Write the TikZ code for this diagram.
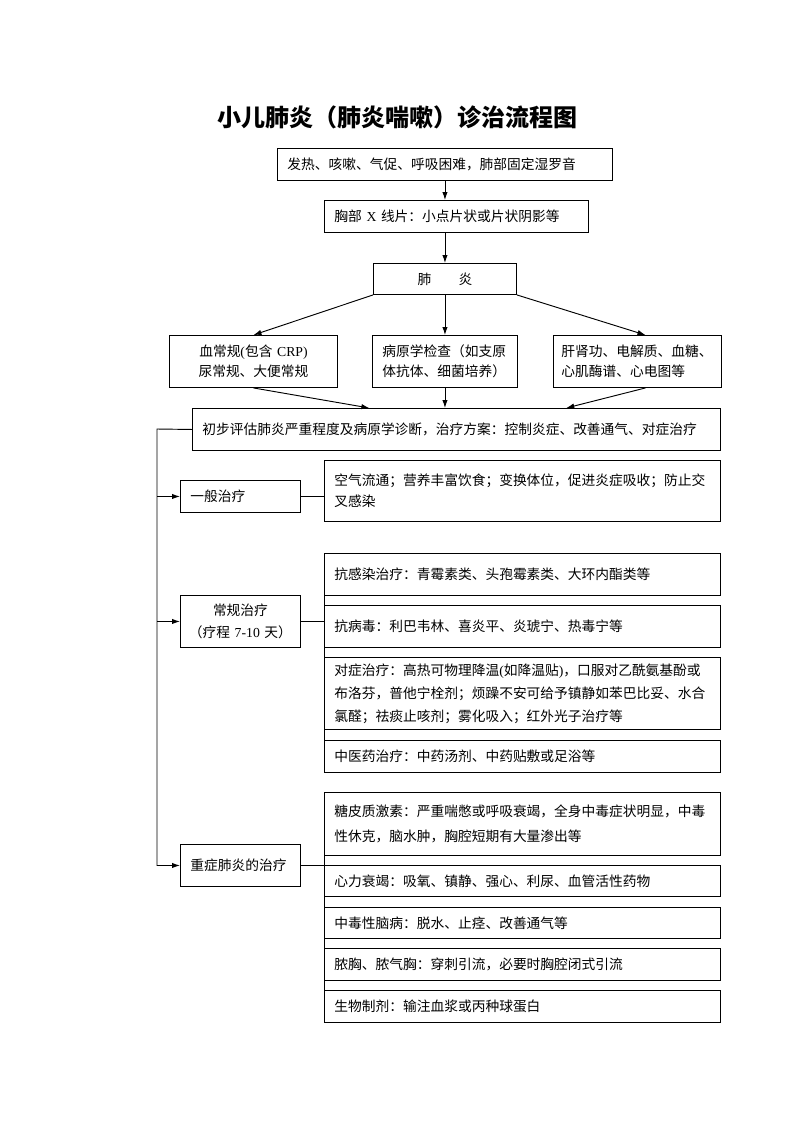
\documentclass[tikz,border=0pt]{standalone}
\usepackage{fontspec}
\setmainfont{Noto Sans CJK SC}
\newfontfamily\latfont{Liberation Serif}
\newcommand{\lat}[1]{{\latfont #1}}
\usetikzlibrary{arrows.meta}
\tikzset{
	every path/.style={line width=0.7pt},
	box/.style={
		draw,
		rectangle,
		anchor=north west,
		align=left,
		inner xsep=7.5pt,
		inner ysep=2pt,
		font=\fontsize{10.3}{16}\selectfont,
	},
	item/.style={box, text width=282pt},
	branch/.style={box, text width=75pt},
	flow/.style={
		-{Latex[length=6pt,width=4pt]}
	},
}

\begin{document}
\begin{tikzpicture}[x=0.75pt,y=-0.75pt]
	\useasboundingbox (0,0) rectangle (793,1122);

	\node[font=\fontsize{18}{22}\selectfont\bfseries] (title) at (397,117) {小儿肺炎（肺炎喘嗽）诊治流程图};

	% diagnosis
	\node[box, text width=236.25pt, minimum height=24pt] (sym) at (277,148) {发热、咳嗽、气促、呼吸困难，肺部固定湿罗音};
	\node[box, text width=183pt, minimum height=24pt] (xray) at (324,200) {胸部 \lat{X} 线片：小点片状或片状阴影等};
	\node[box, align=center, text width=92.25pt, minimum height=23.25pt] (pneu) at (373,263) {肺　　炎};

	\node[box, align=center, text width=111pt, minimum height=39pt, font=\fontsize{10.3}{15}\selectfont] (blood) at (169,335) {血常规\lat{(}包含 \lat{CRP)}\\尿常规、大便常规};
	\node[box, text width=93.75pt, minimum height=39pt, font=\fontsize{10.3}{15}\selectfont] (patho) at (372,335) {病原学检查（如支原\\体抗体、细菌培养）};
	\node[box, inner xsep=6pt, text width=114pt, minimum height=39pt, font=\fontsize{10.3}{15}\selectfont] (organ) at (553,335) {肝肾功、电解质、血糖、\\心肌酶谱、心电图等};

	\node[box, text width=381pt, minimum height=31.5pt] (assess) at (192,408) {初步评估肺炎严重程度及病原学诊断，治疗方案：控制炎症、改善通气、对症治疗};

	% treatment
	\node[branch, minimum height=24pt] (general) at (180,480) {一般治疗};
	\node[item, minimum height=45.75pt] (air) at (324,460) {空气流通；营养丰富饮食；变换体位，促进炎症吸收；防止交\\叉感染};

	\node[branch, align=center, inner xsep=1pt, text width=88pt, minimum height=39pt] (routine) at (180,595) {常规治疗\\（疗程~\lat{7-10}~天）};
	\node[item, minimum height=31.5pt] (anti) at (324,553) {抗感染治疗：青霉素类、头孢霉素类、大环内酯类等};
	\node[item, minimum height=31.5pt] (antiv) at (324,605) {抗病毒：利巴韦林、喜炎平、炎琥宁、热毒宁等};
	\node[item, minimum height=54pt, font=\fontsize{10.3}{17.25}\selectfont] (symp) at (324,657) {对症治疗：高热可物理降温\lat{(}如降温贴\lat{)}，口服对乙酰氨基酚或\\布洛芬，普他宁栓剂；烦躁不安可给予镇静如苯巴比妥、水合\\氯醛；祛痰止咳剂；雾化吸入；红外光子治疗等};
	\node[item, minimum height=24pt] (tcm) at (324,740) {中医药治疗：中药汤剂、中药贴敷或足浴等};

	\node[branch, minimum height=31.5pt] (severe) at (180,844) {重症肺炎的治疗};
	\node[item, minimum height=47.25pt, font=\fontsize{10.3}{18.75}\selectfont] (steroid) at (324,792) {糖皮质激素：严重喘憋或呼吸衰竭，全身中毒症状明显，中毒\\性休克，脑水肿，胸腔短期有大量渗出等};
	\node[item, minimum height=23.25pt] (heart) at (324,865) {心力衰竭：吸氧、镇静、强心、利尿、血管活性药物};
	\node[item, minimum height=23.25pt] (brain) at (324,907) {中毒性脑病：脱水、止痉、改善通气等};
	\node[item, minimum height=24pt] (empy) at (324,948) {脓胸、脓气胸：穿刺引流，必要时胸腔闭式引流};
	\node[item, minimum height=24pt] (bio) at (324,990) {生物制剂：输注血浆或丙种球蛋白};

	\draw[flow] (sym.south) -- (sym.south |- xray.north);
	\draw[flow] (sym.south |- xray.south) -- (pneu.north);
	\draw[flow] (pneu.south west) -- (blood.north);
	\draw[flow] (pneu.south) -- (patho.north);
	\draw[flow] (pneu.south east) -- ([xshift=6pt]organ.north);
	\draw[flow] (blood.south) -- ([xshift=133pt]assess.north west);
	\draw[flow] (patho.south) -- (patho.south |- assess.north);
	\draw[flow] ([xshift=6pt]organ.south) -- ([xshift=-116pt]assess.north east);

	\coordinate (trunk) at (157,429);
	\draw[flow] (assess.west) -- (trunk) |- (severe.west);
	\draw[flow] (trunk |- general.west) -- (general.west);
	\draw[flow] (trunk |- routine.west) -- (routine.west);

	\draw (general.east) -- (general.east -| air.west);
	\draw (routine.east) -- (routine.east -| anti.west);
	\draw (anti.north west) -- (tcm.south west);
	\draw (severe.east) -- (severe.east -| heart.west);
	\draw (steroid.north west) -- (bio.south west);
\end{tikzpicture}
\end{document}
